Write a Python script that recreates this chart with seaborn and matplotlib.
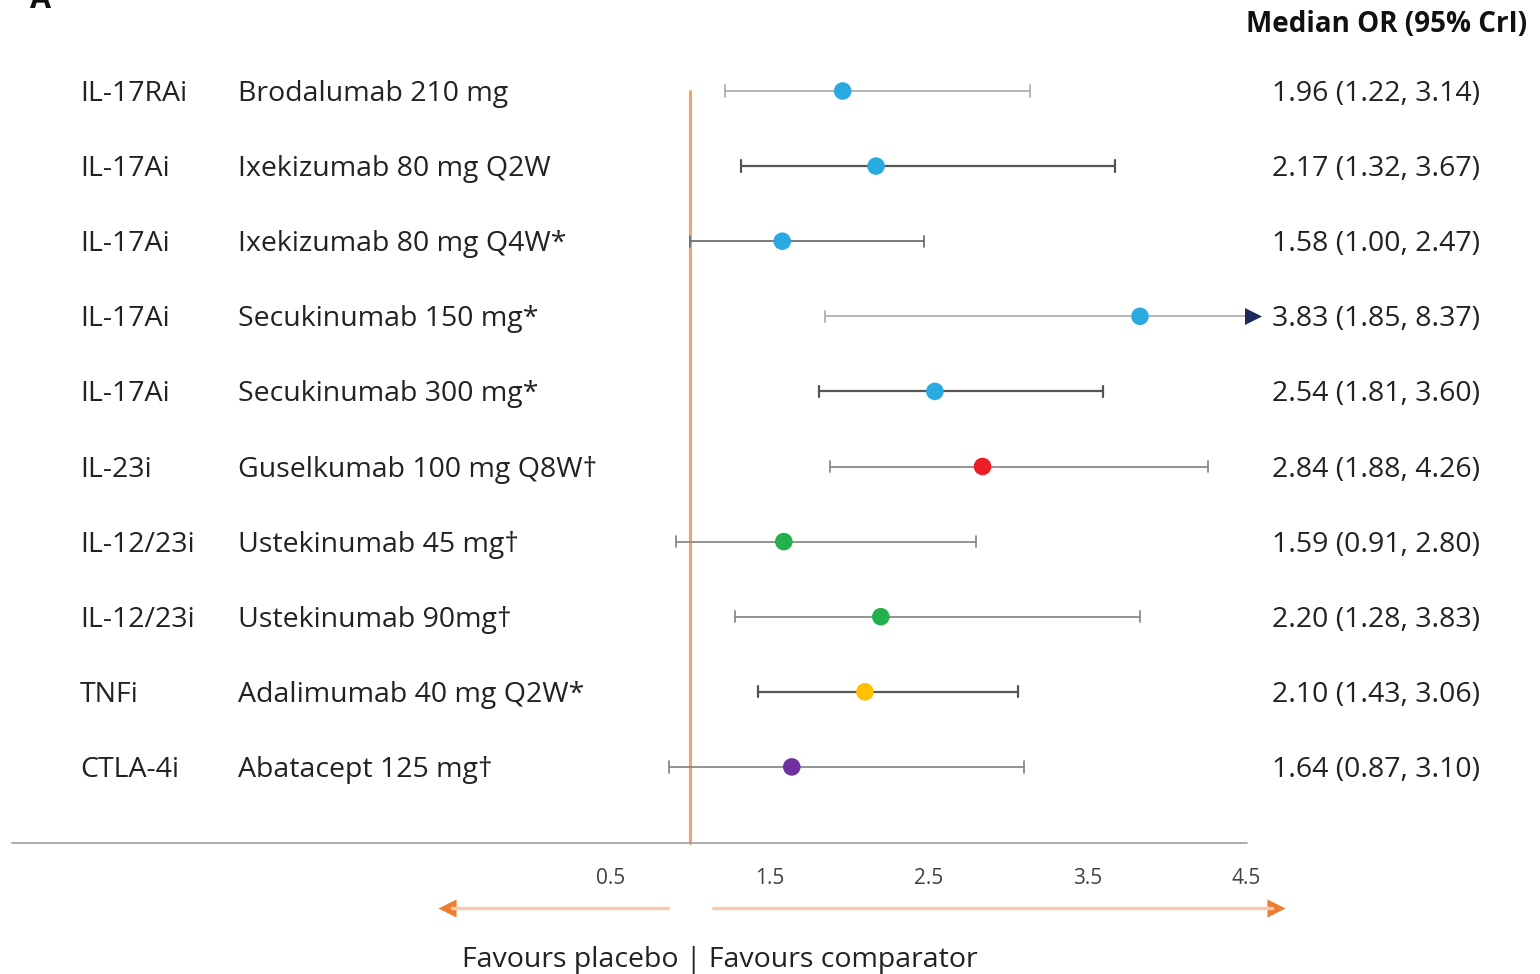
import numpy as np
import pandas as pd
import seaborn as sns
import matplotlib.pyplot as plt

# data
classes = ["IL-17RAi", "IL-17Ai", "IL-17Ai", "IL-17Ai", "IL-17Ai",
           "IL-23i", "IL-12/23i", "IL-12/23i", "TNFi", "CTLA-4i"]
drugs = ["Brodalumab 210 mg", "Ixekizumab 80 mg Q2W", "Ixekizumab 80 mg Q4W*",
         "Secukinumab 150 mg*", "Secukinumab 300 mg*", "Guselkumab 100 mg Q8W\u2020",
         "Ustekinumab 45 mg\u2020", "Ustekinumab 90mg\u2020", "Adalimumab 40 mg Q2W*",
         "Abatacept 125 mg\u2020"]
median_or = [1.96, 2.17, 1.58, 3.83, 2.54, 2.84, 1.59, 2.20, 2.10, 1.64]
ci_low = [1.22, 1.32, 1.00, 1.85, 1.81, 1.88, 0.91, 1.28, 1.43, 0.87]
ci_high = [3.14, 3.67, 2.47, 8.37, 3.60, 4.26, 2.80, 3.83, 3.06, 3.10]
ticks = [0.5, 1.5, 2.5, 3.5, 4.5]

class_colors = {"IL-17RAi": "#29ABE2", "IL-17Ai": "#29ABE2", "IL-23i": "#EE1C25",
                "IL-12/23i": "#22B14C", "TNFi": "#FFC000", "CTLA-4i": "#7030A0"}
bar_colors = ["#b0b0b0", "#555555", "#707070", "#b0b0b0", "#555555",
              "#8a8a8a", "#8a8a8a", "#8a8a8a", "#555555", "#8a8a8a"]

df = pd.DataFrame({"cls": classes, "drug": drugs, "median": median_or,
                   "low": ci_low, "high": ci_high})
df["row"] = np.arange(len(df))

sns.set_theme(style="white")
plt.rcParams["font.family"] = ["Open Sans", "DejaVu Sans"]

W, H = 1540, 974
fig = plt.figure(figsize=(W / 100, H / 100), dpi=100)
ax = fig.add_axes([0, 0, 1, 1])

# pixel -> data mapping: x=1 at 690px, 1 unit = 159px; rows at 91px + 75.1px*i
px0, ppu = 690, 159.0
row0, rstep = 91, 75.1
ax.set_xlim(1 - px0 / ppu, 1 + (W - px0) / ppu)
ax.set_ylim((H - row0) / rstep, -row0 / rstep)
ax.axis("off")

def px_x(p):
    return 1 + (p - px0) / ppu

def px_y(p):
    return (p - row0) / rstep

xmax = 4.5
cap = 0.075
for i, r in df.iterrows():
    hi = min(r["high"], xmax)
    lw = 1.6 if bar_colors[i] == "#555555" else 1.3
    ax.plot([r["low"], hi], [r["row"], r["row"]], color=bar_colors[i], lw=lw, zorder=2)
    ax.plot([r["low"], r["low"]], [r["row"] - cap, r["row"] + cap], color=bar_colors[i], lw=lw, zorder=2)
    if r["high"] > xmax:
        ax.scatter([xmax + 0.04], [r["row"]], marker=">", s=150, color="#1F2A5C", zorder=3, linewidths=0)
    else:
        ax.plot([hi, hi], [r["row"] - cap, r["row"] + cap], color=bar_colors[i], lw=lw, zorder=2)

sns.scatterplot(data=df, x="median", y="row", hue="cls", palette=class_colors,
                s=160, linewidth=0, legend=False, zorder=4, ax=ax)

# reference line at OR = 1
ax.plot([1, 1], [px_y(91), px_y(843)], color="#F4A46A", lw=2.2, zorder=1)
# bottom axis line
ax.plot([px_x(12), px_x(1247)], [px_y(843), px_y(843)], color="#a6a6a6", lw=1.3)
for t in ticks:
    ax.text(t, px_y(878), f"{t}", ha="center", va="center", fontsize=15, color="#404040")

# favours arrows
ay = px_y(908)
ax.plot([px_x(452), px_x(668)], [ay, ay], color="#F8CBAD", lw=2.5)
ax.plot([px_x(713), px_x(1272)], [ay, ay], color="#F8CBAD", lw=2.5)
ax.scatter([px_x(447)], [ay], marker="<", s=170, color="#ED7D31", linewidths=0)
ax.scatter([px_x(1276)], [ay], marker=">", s=170, color="#ED7D31", linewidths=0)
tr = ax.get_yaxis_transform()
ax.text(720 / W, px_y(946), "Favours placebo | Favours comparator", transform=tr,
        ha="center", va="top", fontsize=20.5, color="#222222")

# row labels and estimates
fs = 20.5
for i, r in df.iterrows():
    y = r["row"] + 0.04
    ax.text(80 / W, y, r["cls"], transform=tr, ha="left", va="center", fontsize=fs, color="#222222")
    ax.text(238 / W, y, r["drug"], transform=tr, ha="left", va="center", fontsize=fs, color="#222222")
    ax.text(1272 / W, y,
            f"{r['median']:.2f} ({r['low']:.2f}, {r['high']:.2f})",
            transform=tr, ha="left", va="center", fontsize=fs, color="#222222")

ax.text(1246 / W, px_y(25), "Median OR (95% CrI)", transform=tr, ha="left", va="center",
        fontsize=20, fontweight="bold", color="#111111")
ax.text(30 / W, px_y(8), "A", transform=tr, ha="left", va="baseline",
        fontsize=22, fontweight="bold", color="#111111")

fig.savefig("out.png", dpi=100)
